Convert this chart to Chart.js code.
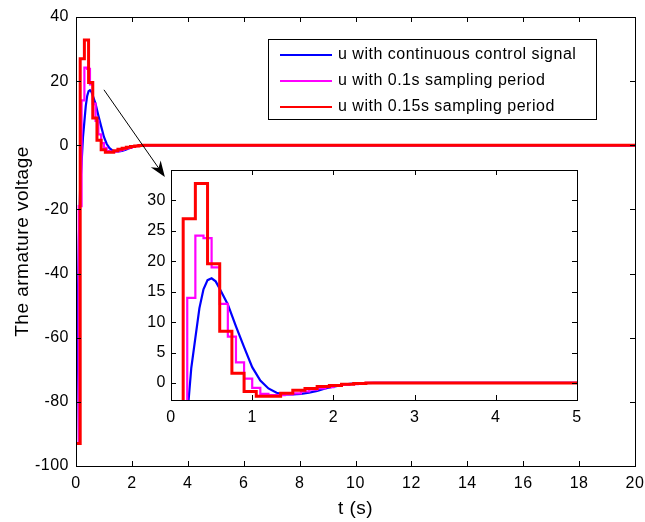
<!DOCTYPE html>
<html>
<head>
<meta charset="utf-8">
<script src="https://cdn.jsdelivr.net/npm/chart.js@4.4.0/dist/chart.umd.min.js"></script>
<style>
html, body { margin: 0; padding: 0; background: #fff; }
#wrap { position: relative; width: 645px; height: 522px; }
#main { position: absolute; left: 0; top: 0; }
#inset { position: absolute; left: 130px; top: 160px; }
</style>
</head>
<body>
<div id="wrap">
<canvas id="main" width="645" height="522"></canvas>
<canvas id="inset" width="460" height="270"></canvas>
</div>
<script>
// continuous control signal
var tCont = [0, 0.05, 0.1, 0.15, 0.2, 0.25, 0.3, 0.35, 0.4, 0.45, 0.5, 0.55, 0.6, 0.7, 0.8, 0.9, 1.0, 1.1, 1.2, 1.3, 1.4, 1.5, 1.6, 1.7, 1.8, 1.9, 2.0, 2.1, 2.2, 2.3, 2.5, 20];
var uCont = [-93, -58, -30, -13, -5.5, 2.5, 7.4, 12.3, 15.4, 16.9, 17.2, 16.7, 15.5, 12.9, 9.3, 5.9, 2.6, 0.4, -0.9, -1.6, -1.9, -1.9, -1.8, -1.6, -1.3, -0.9, -0.6, -0.35, -0.15, -0.05, 0, 0];

// 0.1s sampling period (zero-order hold)
var t01 = [0, 0.1, 0.2, 0.3, 0.4, 0.5, 0.6, 0.7, 0.8, 0.9, 1.0, 1.1, 1.2, 1.3, 1.4, 1.5, 1.6, 1.7, 1.8, 1.9, 2.0, 2.1, 2.2, 2.3, 2.4, 20];
var u01 = [-93, -19, 14, 24.2, 23.8, 19, 13, 7.6, 3.4, 0.7, -0.8, -1.8, -2.0, -2.0, -1.9, -1.7, -1.4, -1.1, -0.9, -0.7, -0.5, -0.3, -0.2, -0.1, 0, 0];

// 0.15s sampling period (zero-order hold)
var t015 = [0, 0.15, 0.3, 0.45, 0.6, 0.75, 0.9, 1.05, 1.2, 1.35, 1.5, 1.65, 1.8, 1.95, 2.1, 2.25, 2.4, 20];
var u015 = [-93, 27, 32.8, 19.6, 8.5, 1.6, -1.4, -2.2, -2.2, -1.7, -1.2, -0.9, -0.6, -0.4, -0.2, -0.1, 0, 0];

var labels = ['u with continuous control signal', 'u with 0.1s sampling period', 'u with 0.15s sampling period'];
var colors = ['#0000ff', '#ff00ff', '#ff0000'];

var xTicksMain = [0, 2, 4, 6, 8, 10, 12, 14, 16, 18, 20];
var yTicksMain = [-100, -80, -60, -40, -20, 0, 20, 40];
var xTicksInset = [0, 1, 2, 3, 4, 5];
var yTicksInset = [0, 5, 10, 15, 20, 25, 30];

// arrow from the peak to the zoomed view, in data units of the main axes
var arrowFrom = [1.0, 17.3];
var arrowTo = [3.18, -9.9];

function pts(ts, us) {
    return ts.map(function (t, i) { return { x: t, y: us[i] }; });
}

function makeDatasets() {
    return [
        { label: labels[0], data: pts(tCont, uCont), borderColor: colors[0], borderWidth: 2.2, pointRadius: 0, order: 3 },
        { label: labels[1], data: pts(t01, u01), borderColor: colors[1], borderWidth: 2.2, pointRadius: 0, stepped: true, order: 2 },
        { label: labels[2], data: pts(t015, u015), borderColor: colors[2], borderWidth: 3, pointRadius: 0, stepped: true, order: 1 }
    ];
}

function fixTicks(list) {
    return function (scale) {
        scale.ticks = list.map(function (v) { return { value: v }; });
    };
}

var fam = 'Liberation Sans, Arial, sans-serif';
var tickFont = { family: fam, size: 16 };
var titleFont = { family: fam, size: 19 };

// MATLAB text looks a bit wider than Arial
var spacingPlugin = {
    id: 'spacing',
    beforeLayout: function (chart) { chart.ctx.letterSpacing = '0.5px'; },
    beforeDraw: function (chart) { chart.ctx.letterSpacing = '0.5px'; }
};

// white axes background, black box and inward ticks on all four sides
var boxPlugin = {
    id: 'box',
    beforeDraw: function (chart) {
        var a = chart.chartArea, c = chart.ctx;
        c.save();
        c.fillStyle = '#fff';
        c.fillRect(a.left, a.top, a.right - a.left, a.bottom - a.top);
        c.restore();
    },
    afterDatasetsDraw: function (chart) {
        var a = chart.chartArea, c = chart.ctx;
        var sx = chart.scales.x, sy = chart.scales.y;
        c.save();
        c.strokeStyle = '#000';
        c.lineWidth = 1;
        c.beginPath();
        sx.ticks.forEach(function (t) {
            var px = Math.round(sx.getPixelForValue(t.value)) + 0.5;
            c.moveTo(px, a.bottom); c.lineTo(px, a.bottom - 5);
            c.moveTo(px, a.top); c.lineTo(px, a.top + 5);
        });
        sy.ticks.forEach(function (t) {
            var py = Math.round(sy.getPixelForValue(t.value)) + 0.5;
            c.moveTo(a.left, py); c.lineTo(a.left + 5, py);
            c.moveTo(a.right, py); c.lineTo(a.right - 5, py);
        });
        c.stroke();
        c.strokeRect(Math.round(a.left) + 0.5, Math.round(a.top) + 0.5, Math.round(a.right - a.left), Math.round(a.bottom - a.top));
        c.restore();
    }
};

var legendArrowPlugin = {
    id: 'legendArrow',
    afterDraw: function (chart) {
        var c = chart.ctx;
        var sx = chart.scales.x, sy = chart.scales.y;
        c.save();
        // arrow
        var x1 = sx.getPixelForValue(arrowFrom[0]), y1 = sy.getPixelForValue(arrowFrom[1]);
        var x2 = sx.getPixelForValue(arrowTo[0]), y2 = sy.getPixelForValue(arrowTo[1]);
        var ang = Math.atan2(y2 - y1, x2 - x1);
        c.strokeStyle = '#000';
        c.lineWidth = 1;
        c.beginPath();
        c.moveTo(x1, y1);
        c.lineTo(x2 - 10 * Math.cos(ang), y2 - 10 * Math.sin(ang));
        c.stroke();
        c.fillStyle = '#000';
        c.beginPath();
        c.moveTo(x2, y2);
        c.lineTo(x2 - 16 * Math.cos(ang) + 6 * Math.sin(ang), y2 - 16 * Math.sin(ang) - 6 * Math.cos(ang));
        c.lineTo(x2 - 11 * Math.cos(ang), y2 - 11 * Math.sin(ang));
        c.lineTo(x2 - 16 * Math.cos(ang) - 6 * Math.sin(ang), y2 - 16 * Math.sin(ang) + 6 * Math.cos(ang));
        c.closePath();
        c.fill();

        // legend box
        var lx = 268, ly = 39, lw = 328, lh = 80;
        c.fillStyle = '#fff';
        c.fillRect(lx, ly, lw, lh);
        c.strokeRect(lx + 0.5, ly + 0.5, lw, lh);
        c.font = '16px ' + fam;
        c.textBaseline = 'middle';
        chart.data.datasets.forEach(function (ds, i) {
            var yy = ly + 16 + i * 26;
            c.strokeStyle = ds.borderColor;
            c.lineWidth = 2.2;
            c.beginPath();
            c.moveTo(lx + 12, yy);
            c.lineTo(lx + 64, yy);
            c.stroke();
            c.fillStyle = '#000';
            c.fillText(ds.label, lx + 70, yy);
        });
        c.restore();
    }
};

Chart.defaults.font.family = fam;
Chart.defaults.color = '#000';

function axisX(min, max, list, h, title) {
    return {
        type: 'linear',
        min: min,
        max: max,
        afterBuildTicks: fixTicks(list),
        afterFit: function (s) { s.height = h; s.paddingLeft = 0; s.paddingRight = 0; },
        grid: { display: false, drawTicks: false, tickLength: 0 },
        border: { display: false },
        ticks: { font: tickFont, padding: 8, maxRotation: 0 },
        title: title
    };
}

function axisY(min, max, list, w, pad, title) {
    return {
        min: min,
        max: max,
        afterBuildTicks: fixTicks(list),
        afterFit: function (s) { s.width = w; s.paddingTop = 0; s.paddingBottom = 0; },
        grid: { display: false, drawTicks: false, tickLength: 0 },
        border: { display: false },
        ticks: { font: tickFont, padding: pad },
        title: title
    };
}

var mainChart = new Chart(document.getElementById('main').getContext('2d'), {
    type: 'line',
    data: { datasets: makeDatasets() },
    options: {
        responsive: false,
        animation: false,
        layout: { padding: { top: 17, right: 10 } },
        plugins: { legend: { display: false }, tooltip: { enabled: false } },
        scales: {
            x: axisX(0, 20, xTicksMain, 56, { display: true, text: 't (s)', font: titleFont, padding: { top: 0, bottom: 2 } }),
            y: axisY(-100, 40, yTicksMain, 76, 7, { display: true, text: 'The armature voltage', font: titleFont, padding: { top: 11, bottom: 0 } })
        }
    },
    plugins: [spacingPlugin, boxPlugin, legendArrowPlugin]
});

var insetChart = new Chart(document.getElementById('inset').getContext('2d'), {
    type: 'line',
    data: { datasets: makeDatasets() },
    options: {
        responsive: false,
        animation: false,
        layout: { padding: { top: 10, right: 13 } },
        plugins: { legend: { display: false }, tooltip: { enabled: false } },
        scales: {
            x: axisX(0, 5, xTicksInset, 30, { display: false }),
            y: axisY(-2.8, 35, yTicksInset, 41, 5, { display: false })
        }
    },
    plugins: [spacingPlugin, boxPlugin]
});
</script>
</body>
</html>
